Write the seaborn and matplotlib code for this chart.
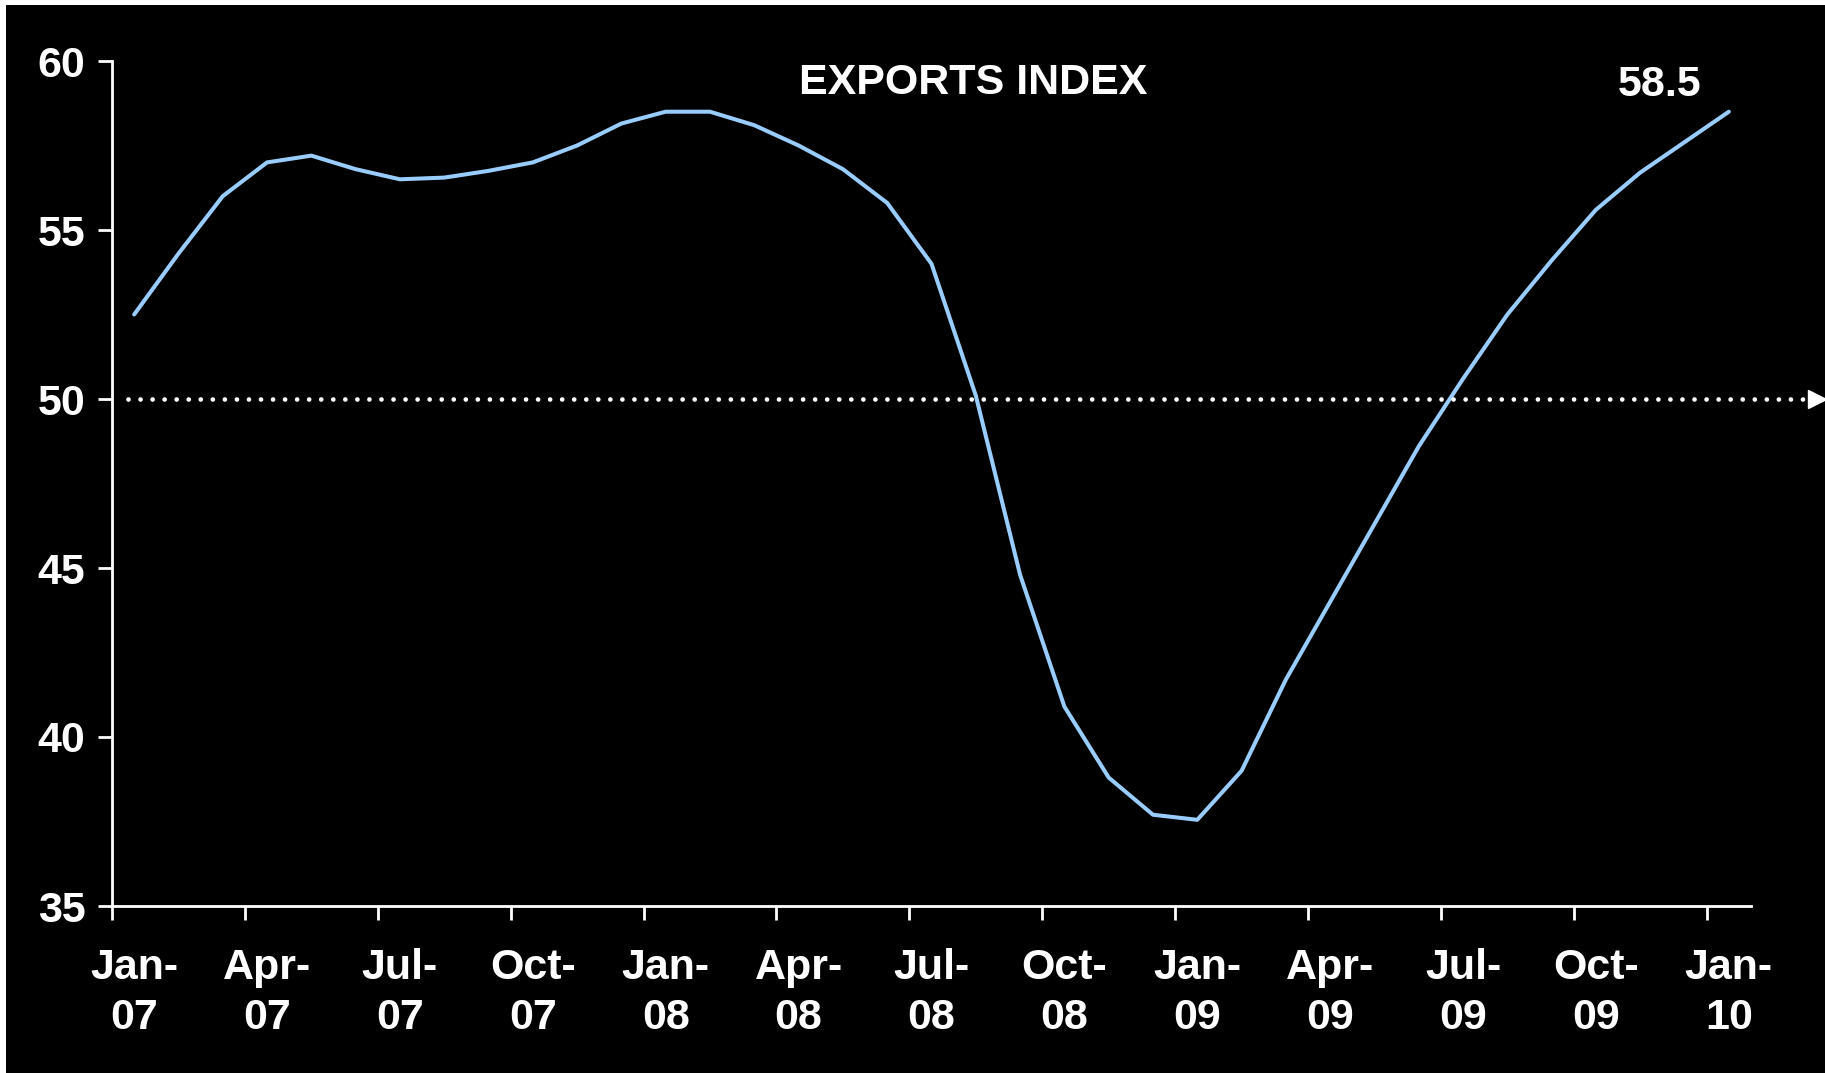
import matplotlib
matplotlib.use("Agg")
import matplotlib.pyplot as plt
import matplotlib.transforms as mtransforms
from matplotlib.patches import Rectangle
import seaborn as sns
import pandas as pd

# ---- data ----
months = ["Jan-07", "Feb-07", "Mar-07", "Apr-07", "May-07", "Jun-07", "Jul-07", "Aug-07",
          "Sep-07", "Oct-07", "Nov-07", "Dec-07", "Jan-08", "Feb-08", "Mar-08", "Apr-08",
          "May-08", "Jun-08", "Jul-08", "Aug-08", "Sep-08", "Oct-08", "Nov-08", "Dec-08",
          "Jan-09", "Feb-09", "Mar-09", "Apr-09", "May-09", "Jun-09", "Jul-09", "Aug-09",
          "Sep-09", "Oct-09", "Nov-09", "Dec-09", "Jan-10"]
exports_index = [52.5, 54.3, 56.0, 57.0, 57.2, 56.8, 56.5, 56.55, 56.75, 57.0, 57.5, 58.15,
                 58.5, 58.5, 58.1, 57.5, 56.8, 55.8, 54.0, 50.1, 44.8, 40.9, 38.8, 37.7,
                 37.55, 39.0, 41.7, 44.0, 46.3, 48.6, 50.6, 52.5, 54.1, 55.6, 56.7, 57.6, 58.5]
tick_labels = ["Jan-\n07", "Apr-\n07", "Jul-\n07", "Oct-\n07", "Jan-\n08", "Apr-\n08", "Jul-\n08",
               "Oct-\n08", "Jan-\n09", "Apr-\n09", "Jul-\n09", "Oct-\n09", "Jan-\n10"]
y_ticks = [35, 40, 45, 50, 55, 60]
threshold = 50
title = "EXPORTS INDEX"
last_label = "58.5"

df = pd.DataFrame({"idx": range(len(months)), "month": months, "value": exports_index})

sns.set_theme(style="dark")
plt.rcParams["font.family"] = ["Liberation Sans", "DejaVu Sans"]
plt.rcParams["font.weight"] = "bold"

W, H, DPI = 1825, 1073, 100
fig = plt.figure(figsize=(W / DPI, H / DPI), dpi=DPI, facecolor="white")
# black backdrop with thin white strip on top and left
fig.patches.append(Rectangle((6 / W, 0), 1 - 6 / W, 1 - 5 / H, transform=fig.transFigure,
                             facecolor="black", edgecolor="none", zorder=-10))

ax = fig.add_axes([112 / W, 1 - 906 / H, (1751 - 112) / W, (906 - 61) / H])
ax.set_facecolor("black")
ax.patch.set_alpha(0.0)

sns.lineplot(data=df, x="idx", y="value", ax=ax, color="#99CCFF", linewidth=2.9)

n = len(months)
ax.set_xlim(-0.5, n - 0.5)
ax.set_ylim(min(y_ticks), max(y_ticks))

# threshold dotted line extending to figure edge with arrowhead
blend = mtransforms.blended_transform_factory(fig.transFigure, ax.transData)
x_start_fig = (112 + 16) / W
ax.plot([x_start_fig, 0.993], [threshold, threshold], transform=blend, color="white",
        lw=3.4, linestyle=(0, (0.001, 2.55)), dash_capstyle="round", clip_on=False, zorder=3)
ax.plot([0.9955], [threshold], transform=blend, marker=">", markersize=13, color="white",
        clip_on=False, zorder=3)

# spines
for s in ["top", "right"]:
    ax.spines[s].set_visible(False)
for s in ["left", "bottom"]:
    ax.spines[s].set_visible(True)
    ax.spines[s].set_color("white")
    ax.spines[s].set_linewidth(2.0)
ax.grid(False)

# y ticks
ax.set_yticks(y_ticks)
ax.set_yticklabels([str(v) for v in y_ticks])
ax.tick_params(axis="y", which="major", direction="out", length=10, width=2.0, color="white",
               labelcolor="white", labelsize=31, pad=9, left=True)

# x ticks: major at quarter boundaries, labels on minor at category centers
quarter_centers = list(range(0, n, 3))
boundaries = [c - 0.5 for c in quarter_centers]
ax.set_xticks(boundaries)
ax.set_xticklabels([""] * len(boundaries))
ax.set_xticks(quarter_centers, minor=True)
ax.set_xticklabels(tick_labels, minor=True)
ax.tick_params(axis="x", which="major", direction="out", length=10, width=2.0, color="white",
               bottom=True)
ax.tick_params(axis="x", which="minor", length=0, labelcolor="white", labelsize=31, pad=30,
               bottom=True)
for lab in ax.get_xticklabels(minor=True):
    lab.set_fontweight("bold")
    lab.set_linespacing(1.33)
for lab in ax.get_yticklabels():
    lab.set_fontweight("bold")

ax.set_xlabel("")
ax.set_ylabel("")

ax.text(0.5253, 0.974, title, transform=ax.transAxes, ha="center", va="center",
        color="white", fontsize=31, fontweight="bold")

ax.annotate(last_label, xy=(n - 1, exports_index[-1]), xytext=(-50, 19),
            textcoords="offset points", ha="center", va="center", color="white",
            fontsize=31, fontweight="bold")

fig.savefig("out.png", dpi=DPI, facecolor=fig.get_facecolor())
